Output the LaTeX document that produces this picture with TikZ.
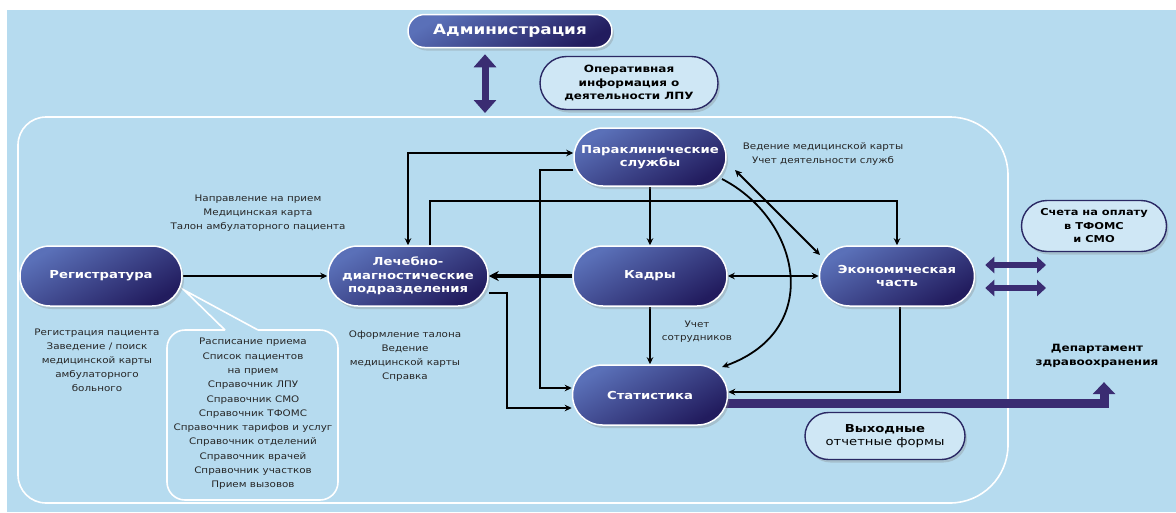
\documentclass[tikz,border=0pt]{standalone}
\usepackage{fontspec}
\setmainfont{DejaVu Sans}
\newfontfamily\tfont[FakeStretch=1.2]{DejaVu Sans}
\newfontfamily\sfontw[FakeStretch=1.15]{DejaVu Sans}
\usetikzlibrary{shapes.misc,arrows.meta,shadows,backgrounds}
\definecolor{bgblue}{HTML}{B6DBEF}
\definecolor{nodeL}{HTML}{5A70B8}
\definecolor{nodeD}{HTML}{221C5E}
\definecolor{purp}{HTML}{3A2C72}
\definecolor{pillB}{HTML}{2A2864}
\definecolor{pillF}{HTML}{CFE7F5}
\begin{document}
\begin{tikzpicture}[x=1pt,y=-1pt,
 title/.style={rounded rectangle, draw=white, line width=1.5pt, top color=nodeL, bottom color=nodeD, shading angle=30, text=white, align=center, inner sep=0pt, font=\tfont\bfseries\fontsize{11}{13.5}\selectfont, drop shadow={opacity=0.3, shadow xshift=2pt, shadow yshift=-3pt}},
 note/.style={rounded rectangle, draw=pillB, line width=1.4pt, fill=pillF, align=center, inner sep=0pt, font=\tfont\bfseries\fontsize{10}{13.5}\selectfont, drop shadow={opacity=0.3, shadow xshift=2pt, shadow yshift=-3pt}},
 small/.style={align=center, inner sep=0pt, text=black!85, font=\sfontw\fontsize{9}{14}\selectfont},
 conn/.style={line width=1.8pt, -{Stealth[length=7pt,width=6.5pt]}},
 both/.style={line width=1.8pt, {Stealth[length=7pt,width=6.5pt]}-{Stealth[length=7pt,width=6.5pt]}},
 fat/.style={purp, line width=6pt, {Triangle[length=9pt,width=16pt]}-{Triangle[length=9pt,width=16pt]}},
]
\useasboundingbox (0,0) rectangle (1176,512);
\begin{scope}[on background layer]
 \fill[white] (0,0) rectangle (1176,512);
 \fill[bgblue] (7,10) rectangle (1176,512);
 \draw[white, line width=1.6pt] (18,300) [rounded corners=28] -- (18,117) -- (600,117) [rounded corners=58] -- (1008,117) -- (1008,503) -- (600,503) [rounded corners=28] -- (18,503) -- cycle;
 % callout box
 \draw[white, line width=1.6pt, rounded corners=18] (225,330) -- (167,330) -- (167,500) -- (338,500) -- (338,330) -- (258,330);
 \draw[white, line width=1.6pt] (225,330) -- (184,290) -- (258,330);
\end{scope}

% main nodes
\node[title, minimum width=204pt, minimum height=33pt, font=\tfont\bfseries\fontsize{14}{16}\selectfont] (adm) at (510,31) {Администрация};
\node[note, minimum width=178pt, minimum height=53pt] (oper) at (629,83) {Оперативная\\информация о\\деятельности ЛПУ};
\node[title, minimum width=152pt, minimum height=58pt] (para) at (650,157) {Параклинические\\службы};
\node[title, minimum width=162pt, minimum height=60pt] (reg) at (101,276) {Регистратура};
\node[title, minimum width=160pt, minimum height=60pt] (ld) at (408,276) {Лечебно-\\диагностические\\подразделения};
\node[title, minimum width=154pt, minimum height=60pt] (kadry) at (650,276) {Кадры};
\node[title, minimum width=155pt, minimum height=60pt] (econ) at (897,276) {Экономическая\\часть};
\node[title, minimum width=155pt, minimum height=60pt] (stat) at (650,395) {Статистика};
\node[note, minimum width=145pt, minimum height=51pt, font=\tfont\bfseries\fontsize{9.5}{13.5}\selectfont] (scheta) at (1094,226) {Счета на оплату\\в ТФОМС\\и СМО};
\node[note, minimum width=160pt, minimum height=47pt, font=\tfont\fontsize{11}{13}\selectfont] (vyh) at (885,436) {\textbf{Выходные}\\отчетные формы};
\node[align=center, inner sep=0pt, font=\tfont\bfseries\fontsize{10}{14.5}\selectfont] (dept) at (1097,356) {Департамент\\здравоохранения};

% small texts
\node[small] (t1) at (258,213) {Направление на прием\\Медицинская карта\\Талон амбулаторного пациента};
\node[small] (t2) at (97,360) {Регистрация пациента\\Заведение / поиск\\медицинской карты\\амбулаторного\\больного};
\node[small] (t3) at (405,356) {Оформление талона\\Ведение\\медицинской карты\\Справка};
\node[small] (t4) at (823,154) {Ведение медицинской карты\\Учет деятельности служб};
\node[small, font=\sfontw\fontsize{9}{13}\selectfont] (t5) at (697,332) {Учет\\сотрудников};
\node[small, font=\sfontw\fontsize{9}{14.3}\selectfont] (t6) at (253,414) {Расписание приема\\Список пациентов\\на прием\\Справочник ЛПУ\\Справочник СМО\\Справочник ТФОМС\\Справочник тарифов и услуг\\Справочник отделений\\Справочник врачей\\Справочник участков\\Прием вызовов};

\coordinate (frametop) at (485,113);
\coordinate (sch1) at (1046,265);
\coordinate (sch2) at (1046,288);

\begin{scope}[on background layer]
 \draw[conn, line width=2.2pt] (reg.east) -- (ld.west);
 \draw[both] ([yshift=4pt]para.west) -| (ld.north);
 \draw[conn] ([xshift=22pt]ld.north) -- ++(0,-44) -| (econ.north);
 \draw[conn] ([yshift=-13pt]para.west) -- ++(-33,0) |- ([yshift=7pt]stat.west);
 \draw[conn] ([yshift=-17pt]ld.east) -- ++(18,0) |- ([yshift=-13pt]stat.west);
 \draw[line width=3.5pt, -{Stealth[length=10pt,width=10pt]}] (kadry.west) -- (ld.east);
 \draw[conn] (para.south) -- (kadry.north);
 \draw[conn, line width=2.6pt] (kadry.south) -- (stat.north);
 \draw[both] (kadry.east) -- (econ.west);
 \draw[both] ([shift={(85,13)}]para.center) -- ([shift={(-77,-21)}]econ.center);
 \draw[conn] ([shift={(72,22)}]para.center) .. controls +(78,40) and +(103,-37) .. ([shift={(72,-28)}]stat.center);
 \draw[conn] ([xshift=3pt]econ.south) |- ([yshift=3pt]stat.east);
 \draw[purp, line width=9pt, -{Triangle[length=12pt,width=22pt]}] ([yshift=-8pt]stat.center) -| ([xshift=7pt,yshift=-14pt]dept.south);
 \draw[purp, line width=7pt, {Triangle[length=13pt,width=22pt]}-{Triangle[length=13pt,width=22pt]}] ([xshift=-25pt,yshift=-6pt]adm.south) -- (frametop);
 \draw[fat] ([shift={(10,-11)}]econ.east) -- (sch1);
 \draw[fat] ([shift={(10,12)}]econ.east) -- (sch2);
\end{scope}
\end{tikzpicture}
\end{document}
